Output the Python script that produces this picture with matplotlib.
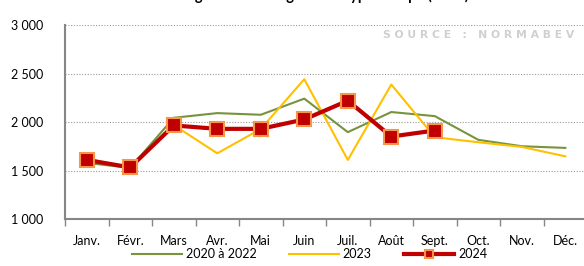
import matplotlib
matplotlib.use("Agg")
import matplotlib.pyplot as plt
from matplotlib.ticker import FuncFormatter, FixedLocator
import numpy as np

months = ["Janv.", "Févr.", "Mars", "Avr.", "Mai", "Juin", "Juil.", "Août", "Sept.", "Oct.", "Nov.", "Déc."]
avg_2020_2022 = [1580, 1530, 2045, 2093, 2076, 2242, 1897, 2104, 2062, 1818, 1752, 1735]
values_2023 = [1625, 1530, 1970, 1679, 1930, 2442, 1611, 2387, 1845, 1793, 1745, 1648]
values_2024 = [1611, 1534, 1966, 1931, 1931, 2028, 2221, 1852, 1914]
yticks = [1000, 1500, 2000, 2500, 3000]

title = "Abattages totaux de génisses type Europe (têtes)"
source = "S O U R C E   :   N O R M A B E V"


def thousands(v, pos):
    return "{:,.0f}".format(v).replace(",", " ")


def main():
    plt.rcParams['font.family'] = ['Lato', 'DejaVu Sans']
    fig = plt.figure(figsize=(5.84, 2.66), dpi=100)
    ax = fig.add_axes([0.1113, 0.1756, 0.894, 0.7304])

    x = np.arange(len(months))
    ax.plot(x, avg_2020_2022, color='#77933C', lw=1.5, label="2020 à 2022")
    ax.plot(x, values_2023, color='#FFC000', lw=1.5, label="2023")
    x24 = np.arange(len(values_2024))
    ax.plot(x24, values_2024, color='#C00000', lw=3, marker='s', markersize=9.5,
            markerfacecolor='#C00000', markeredgecolor='#F79646', markeredgewidth=1.5,
            label="2024", zorder=5)

    ax.set_xlim(-0.5, len(months) - 0.5)
    ax.set_ylim(1000, 3000)
    ax.set_yticks(yticks)
    ax.yaxis.set_major_formatter(FuncFormatter(thousands))
    ax.set_xticks(x)
    ax.set_xticklabels(months)
    ax.xaxis.set_minor_locator(FixedLocator(np.arange(-0.5, len(months), 1)))
    ax.tick_params(axis='x', which='major', length=0, pad=11, labelsize=9)
    ax.tick_params(axis='x', which='minor', length=5, width=1, color='#868686', direction='out')
    ax.tick_params(axis='y', length=0, pad=16, labelsize=9)

    ax.grid(axis='y', color='#9a9a9a', linestyle=(0, (1, 1.5)), lw=0.8)
    ax.set_axisbelow(True)
    for side in ['top', 'right']:
        ax.spines[side].set_visible(False)
    for side in ['left', 'bottom']:
        ax.spines[side].set_color('#868686')
        ax.spines[side].set_linewidth(1.5)

    # Watermark / source
    ax.text(0.975, 0.95, source, transform=ax.transAxes, ha='right', va='center',
            fontsize=7.8, fontweight='bold', color='#d0d0d0', family='DejaVu Sans')

    fig.text(0.53, 1.0, title, ha='center', va='baseline', fontsize=10.5, fontweight='bold')

    fig.legend(loc='center', bbox_to_anchor=(0.53, 0.045), ncol=3, frameon=False,
               fontsize=9, handlelength=4, columnspacing=2.6, handletextpad=0.3,
               markerscale=0.6)

    fig.savefig("out.png", dpi=100)


if __name__ == "__main__":
    main()
